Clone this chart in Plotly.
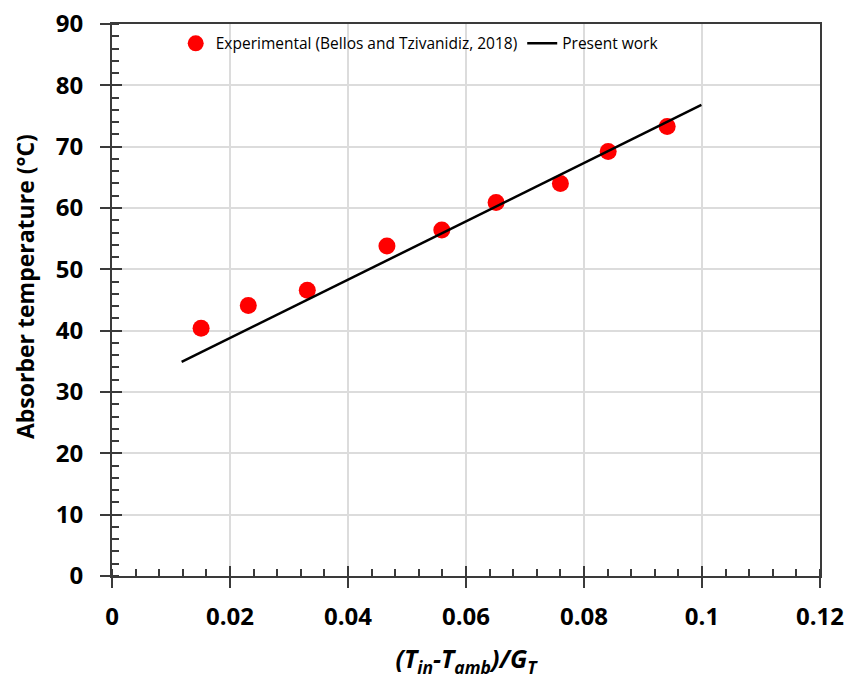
import plotly.graph_objects as go

# Experimental absorber temperature vs reduced temperature
exp_x = [0.0151, 0.0231, 0.0331, 0.0466, 0.0559, 0.0651, 0.0760, 0.0841, 0.0941]
exp_y = [40.4, 44.1, 46.6, 53.8, 56.4, 60.9, 64.0, 69.2, 73.3]

# Model prediction (straight line)
model_x = [0.0118, 0.0999]
model_y = [34.9, 76.8]

x_ticks = [0, 0.02, 0.04, 0.06, 0.08, 0.1, 0.12]
x_tick_labels = ["0", "0.02", "0.04", "0.06", "0.08", "0.1", "0.12"]
y_ticks = [0, 10, 20, 30, 40, 50, 60, 70, 80, 90]

FONT = "Open Sans"
AXIS_COLOR = "#3a3a3a"
GRID_COLOR = "#dcdcdc"

fig = go.Figure()

fig.add_trace(go.Scatter(
    x=exp_x, y=exp_y, mode="markers",
    name="Experimental (Bellos and Tzivanidiz, 2018)",
    marker=dict(color="#ff0000", size=17, line=dict(width=0)),
))
fig.add_trace(go.Scatter(
    x=model_x, y=model_y, mode="lines",
    name="Present work",
    line=dict(color="black", width=2.5),
))

# inward half of the major tick marks (crossing ticks)
fig.add_trace(go.Scatter(x=[None], y=[None], xaxis="x2", yaxis="y2",
                         showlegend=False, hoverinfo="skip"))

common_axis = dict(
    showline=True, linecolor=AXIS_COLOR, linewidth=2, mirror=True,
    showgrid=True, gridcolor=GRID_COLOR, gridwidth=1.5,
    zeroline=False, ticks="outside", ticklen=10, tickwidth=1.5,
    tickcolor=AXIS_COLOR, automargin=False,
    tickfont=dict(family=FONT, size=24, color="black", weight="bold"),
)

fig.update_layout(
    width=852, height=688,
    margin=dict(l=112, r=32, t=24, b=112, autoexpand=False),
    paper_bgcolor="white", plot_bgcolor="white",
    font=dict(family=FONT, color="black"),
    xaxis=dict(
        common_axis, range=[0, 0.12],
        tickvals=x_ticks, ticktext=x_tick_labels,
        ticklabelstandoff=8,
        minor=dict(ticks="inside", ticklen=7, tickwidth=1.5, tickcolor=AXIS_COLOR,
                   dtick=0.004, showgrid=False),
        title=dict(text="<b><i>(T<sub>in</sub>-T<sub>amb</sub>)/G<sub>T</sub></i></b>",
                   font=dict(family=FONT, size=25, color="black"), standoff=20),
    ),
    yaxis=dict(
        common_axis, range=[0, 90],
        tickvals=y_ticks,
        ticklabelstandoff=12,
        minor=dict(ticks="inside", ticklen=7, tickwidth=1.5, tickcolor=AXIS_COLOR,
                   dtick=2, showgrid=False),
    ),
    xaxis2=dict(overlaying="x", matches="x", range=[0, 0.12], tickvals=x_ticks,
                ticks="inside", ticklen=10, tickwidth=1.5, tickcolor=AXIS_COLOR,
                showticklabels=False, showgrid=False, zeroline=False, showline=False,
                automargin=False),
    yaxis2=dict(overlaying="y", matches="y", range=[0, 90], tickvals=y_ticks,
                ticks="inside", ticklen=10, tickwidth=1.5, tickcolor=AXIS_COLOR,
                showticklabels=False, showgrid=False, zeroline=False, showline=False,
                automargin=False),
    legend=dict(
        orientation="h", x=0.09, y=0.995, xanchor="left", yanchor="top",
        bgcolor="rgba(0,0,0,0)", font=dict(family=FONT, size=15.5, color="black"),
        itemwidth=30, traceorder="normal",
    ),
    showlegend=True,
)

# y-axis title, set further out than the automatic title position
fig.add_annotation(
    text="<b>Absorber temperature (°C)</b>",
    xref="paper", yref="paper", x=-0.123, y=0.525,
    xanchor="center", yanchor="middle", textangle=-90, showarrow=False,
    font=dict(family=FONT, size=23, color="black"),
)

fig.write_html("out.html")
